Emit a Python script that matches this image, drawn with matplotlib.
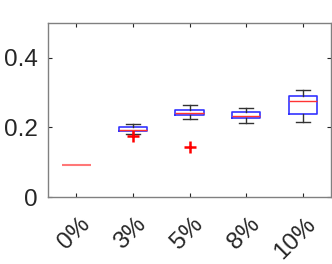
import matplotlib
matplotlib.use('Agg')
from matplotlib import pyplot as plt
from matplotlib import transforms

labels = ['0%', '3%', '5%', '8%', '10%']
medians = [0.093, 0.194, 0.242, 0.234, 0.275]
q1 = [0.093, 0.190, 0.235, 0.226, 0.237]
q3 = [0.093, 0.201, 0.249, 0.245, 0.291]
whislo = [0.093, 0.182, 0.225, 0.212, 0.215]
whishi = [0.093, 0.209, 0.263, 0.256, 0.307]
fliers = [[], [0.176], [0.145], [], []]

plt.rcParams['font.family'] = ['Liberation Sans', 'DejaVu Sans']

stats = []
for i, lab in enumerate(labels):
    stats.append(dict(label=lab, med=medians[i], q1=q1[i], q3=q3[i],
                      whislo=whislo[i], whishi=whishi[i], fliers=fliers[i]))

fig = plt.figure(figsize=(3.32, 2.64), dpi=100)
ax = fig.add_axes([0.145, 0.253, 0.852, 0.661])

bp = ax.bxp(stats, widths=0.5, showfliers=True,
            boxprops=dict(color='#3333ff', linewidth=1.2),
            medianprops=dict(color='#ff3333', linewidth=1),
            whiskerprops=dict(color='#333333', linewidth=1, linestyle='-'),
            capprops=dict(color='#333333', linewidth=1),
            capwidths=0.25,
            flierprops=dict(marker='+', markeredgecolor='red', markersize=8,
                            markeredgewidth=1.8, linestyle='none'))
# 0% has no spread: only the median line shows
bp['boxes'][0].set_visible(False)
for art in bp['whiskers'][0:2] + bp['caps'][0:2]:
    art.set_visible(False)
bp['medians'][0].set_color('#ff7777')
bp['medians'][0].set_linewidth(1.5)

ax.set_xlim(0.5, 5.5)
ax.set_ylim(0, 0.5)
ax.set_yticks([0, 0.2, 0.4])
ax.set_yticklabels(['0', '0.2', '0.4'])
ax.set_xticks(range(1, 6))
ax.set_xticklabels(labels, rotation=45, ha='right', va='center',
                   rotation_mode='anchor')

ax.tick_params(direction='in', length=3, width=0.8, top=True, right=True,
               labelsize=17.5, colors='#262626')
ax.tick_params(axis='y', pad=7.7)
ax.tick_params(axis='x', pad=17.3)
shift = transforms.ScaledTranslation(7.2 / 72, 0, fig.dpi_scale_trans)
for lab in ax.get_xticklabels():
    lab.set_transform(lab.get_transform() + shift)

for s in ax.spines.values():
    s.set_color('#808080')
    s.set_linewidth(1)

fig.savefig('out.png')
